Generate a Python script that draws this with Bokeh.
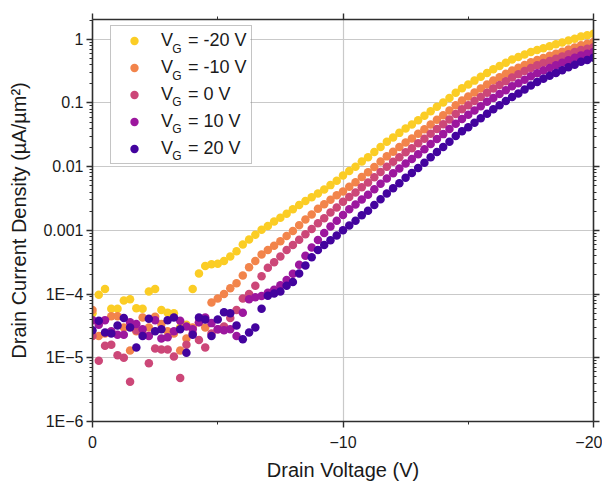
from bokeh.plotting import figure
from bokeh.models import (Range1d, FixedTicker, LinearAxis, LogAxis, Legend, LegendItem,
                          ColumnDataSource, BoxAnnotation)
from bokeh.core.properties import value
from bokeh.embed import file_html
from bokeh.resources import INLINE

drain_voltage = [0, -0.25, -0.5, -0.75, -1, -1.25, -1.5, -1.75, -2, -2.25, -2.5, -2.75, -3, -3.25,
                 -3.5, -3.75, -4, -4.25, -4.5, -4.75, -5, -5.25, -5.5, -5.75, -6, -6.25, -6.5, -6.75,
                 -7, -7.25, -7.5, -7.75, -8, -8.25, -8.5, -8.75, -9, -9.25, -9.5, -9.75, -10, -10.25,
                 -10.5, -10.75, -11, -11.25, -11.5, -11.75, -12, -12.25, -12.5, -12.75, -13, -13.25,
                 -13.5, -13.75, -14, -14.25, -14.5, -14.75, -15, -15.25, -15.5, -15.75, -16, -16.25,
                 -16.5, -16.75, -17, -17.25, -17.5, -17.75, -18, -18.25, -18.5, -18.75, -19, -19.25,
                 -19.5, -19.75, -20]

j_vg_m20 = [5.0e-5, 9.8e-5, 1.2e-4, 5.9e-5, 5.9e-5, 7.9e-5, 8.3e-5, 6.0e-5, 5.9e-5, 1.1e-4, 1.2e-4,
            5.6e-5, 5.1e-5, 5.0e-5, 3.0e-5, 3.3e-5, 1.2e-4, 2.1e-4, 2.75e-4, 2.95e-4, 3.0e-4, 3.3e-4,
            3.9e-4, 4.7e-4, 6.0e-4, 7.2e-4, 8.5e-4, 1.02e-3, 1.17e-3, 1.38e-3, 1.58e-3, 1.82e-3,
            2.14e-3, 2.51e-3, 2.88e-3, 3.31e-3, 3.8e-3, 4.37e-3, 5.13e-3, 6.03e-3, 7.24e-3, 8.51e-3,
            1.0e-2, 1.2e-2, 1.41e-2, 1.70e-2, 2.04e-2, 2.45e-2, 2.88e-2, 3.39e-2, 3.98e-2, 4.57e-2,
            5.37e-2, 6.31e-2, 7.41e-2, 8.71e-2, 0.102, 0.120, 0.145, 0.170, 0.195, 0.224, 0.257,
            0.295, 0.339, 0.380, 0.427, 0.479, 0.525, 0.575, 0.631, 0.676, 0.724, 0.776, 0.832,
            0.891, 0.955, 1.02, 1.10, 1.15, 1.22]

j_vg_m10 = [5.6e-5, 2.2e-5, 2.4e-5, 4.5e-5, 4.5e-5, 3.0e-5, 1.3e-5, 2.6e-5, 4.3e-5, 3.0e-5, 4.4e-5,
            3.4e-5, 2.6e-5, 2.4e-5, 1.3e-5, 2.0e-5, 3.0e-5, 3.6e-5, 3.0e-5, 7.4e-5, 8.5e-5, 1.0e-4,
            1.23e-4, 1.48e-4, 1.95e-4, 2.63e-4, 3.31e-4, 4.17e-4, 4.9e-4, 5.75e-4, 6.76e-4, 8.13e-4,
            9.8e-4, 1.2e-3, 1.48e-3, 1.78e-3, 2.19e-3, 2.57e-3, 3.02e-3, 3.55e-3, 4.07e-3, 4.82e-3,
            5.7e-3, 6.9e-3, 8.17e-3, 9.9e-3, 1.2e-2, 1.45e-2, 1.71e-2, 2.03e-2, 2.4e-2, 2.77e-2,
            3.28e-2, 3.88e-2, 4.59e-2, 5.43e-2, 6.43e-2, 7.6e-2, 9.2e-2, 0.109, 0.126, 0.146, 0.168,
            0.195, 0.225, 0.254, 0.287, 0.324, 0.358, 0.395, 0.437, 0.471, 0.508, 0.548, 0.592,
            0.638, 0.689, 0.743, 0.802, 0.846, 0.902]

j_vg_0 = [2.2e-5, 9.0e-6, 1.55e-5, 1.6e-5, 1.1e-5, 1.0e-5, 4.2e-6, 2.7e-5, 2.4e-5, 8.2e-6, 1.4e-5,
          1.35e-5, 1.35e-5, 1.05e-5, 4.8e-6, 1.6e-5, 2.4e-5, 1.9e-5, 1.45e-5, 2.4e-5, 2.8e-5, 3.1e-5,
          4.2e-5, 5.6e-5, 8.5e-5, 1.0e-4, 1.35e-4, 1.9e-4, 2.6e-4, 3.16e-4, 3.9e-4, 4.9e-4, 5.9e-4,
          7.1e-4, 8.7e-4, 1.05e-3, 1.29e-3, 1.55e-3, 1.91e-3, 2.29e-3, 2.82e-3, 3.33e-3, 3.93e-3,
          4.74e-3, 5.62e-3, 6.81e-3, 8.26e-3, 1.0e-2, 1.19e-2, 1.41e-2, 1.68e-2, 1.95e-2, 2.32e-2,
          2.75e-2, 3.27e-2, 3.89e-2, 4.62e-2, 5.50e-2, 6.68e-2, 7.94e-2, 9.23e-2, 0.107, 0.124,
          0.145, 0.168, 0.191, 0.219, 0.251, 0.282, 0.316, 0.355, 0.389, 0.422, 0.457, 0.495,
          0.537, 0.582, 0.631, 0.676, 0.708, 0.75]

j_vg_10 = [3.9e-5, 3.3e-5, 3.9e-5, 2.6e-5, 2.3e-5, 2.3e-5, 3.6e-5, 3.4e-5, 2.8e-5, 2.2e-5, 3.9e-5,
           2.0e-5, 2.1e-5, 2.6e-5, 3.8e-5, 3.1e-5, 2.8e-5, 3.6e-5, 4.3e-5, 3.5e-5, 2.8e-5, 2.7e-5,
           2.8e-5, 2.2e-5, 5.1e-5, 8.3e-5, 8.9e-5, 9.3e-5, 1.05e-4, 1.17e-4, 1.38e-4, 1.66e-4,
           2.09e-4, 2.88e-4, 3.98e-4, 5.37e-4, 7.08e-4, 9.12e-4, 1.15e-3, 1.41e-3, 1.74e-3, 2.15e-3,
           2.54e-3, 3.06e-3, 3.63e-3, 4.42e-3, 5.37e-3, 6.53e-3, 7.85e-3, 9.33e-3, 1.12e-2, 1.32e-2,
           1.57e-2, 1.88e-2, 2.26e-2, 2.72e-2, 3.24e-2, 3.89e-2, 4.73e-2, 5.62e-2, 6.53e-2, 7.59e-2,
           8.91e-2, 0.104, 0.120, 0.138, 0.158, 0.182, 0.204, 0.232, 0.263, 0.292, 0.324, 0.355,
           0.389, 0.427, 0.468, 0.513, 0.556, 0.589, 0.631]

j_vg_20 = [2.7e-5, 3.8e-5, 2.5e-5, 2.4e-5, 3.2e-5, 4.2e-5, 3.0e-5, 1.45e-5, 2.2e-5, 4.1e-5, 2.6e-5,
           2.8e-5, 3.9e-5, 4.3e-5, 2.8e-5, 1.2e-5, 2.3e-5, 4.3e-5, 4.0e-5, 2.2e-5, 4.0e-5, 5.2e-5,
           5.0e-5, 3.2e-5, 1.95e-5, 2.5e-5, 3.0e-5, 5.9e-5, 9.4e-5, 1.02e-4, 1.1e-4, 1.35e-4,
           1.55e-4, 2.1e-4, 2.8e-4, 3.8e-4, 4.9e-4, 5.9e-4, 7.0e-4, 8.3e-4, 1.0e-3, 1.19e-3,
           1.41e-3, 1.72e-3, 2.04e-3, 2.51e-3, 3.09e-3, 3.80e-3, 4.57e-3, 5.50e-3, 6.68e-3, 7.94e-3,
           9.55e-3, 1.15e-2, 1.40e-2, 1.70e-2, 2.04e-2, 2.45e-2, 3.02e-2, 3.59e-2, 4.17e-2, 4.90e-2,
           5.75e-2, 6.76e-2, 7.94e-2, 9.23e-2, 0.107, 0.124, 0.141, 0.162, 0.188, 0.214, 0.240,
           0.266, 0.295, 0.327, 0.363, 0.398, 0.442, 0.473, 0.513]

series_names = ["-20", "-10", "0", "10", "20"]
series_values = [j_vg_m20, j_vg_m10, j_vg_0, j_vg_10, j_vg_20]
series_colors = ["#fbcd25", "#f2844b", "#cc4778", "#9c179e", "#43039e"]

decade_ticks = [1e-6, 1e-5, 1e-4, 1e-3, 1e-2, 1e-1, 1.0]
decade_labels = ["1E\u22126", "1E\u22125", "1E\u22124", "0.001", "0.01", "0.1", "1"]
x_major = [0, -10, -20]
x_major_labels = ["0", "\u221210", "\u221220"]
x_minor = [-5, -15]

FONT = "Liberation Sans"
AX = "#2e2e2e"

p = figure(width=602, height=483, y_axis_type="log", x_range=Range1d(0, -20),
           y_range=Range1d(1e-6, 2.04), output_backend="svg", toolbar_location=None,
           min_border_left=92, min_border_right=9, min_border_top=19, min_border_bottom=62)
p.outline_line_color = None
p.background_fill_color = "white"
p.border_fill_color = "white"

minor_log = [m * 10.0 ** e for e in range(-6, 1) for m in range(2, 10)]
y_ticker = FixedTicker(ticks=decade_ticks, minor_ticks=minor_log)
x_ticker = FixedTicker(ticks=x_major, minor_ticks=x_minor)

# white patch behind the (transparent) legend so grid lines do not show through
p.add_layout(BoxAnnotation(left=-0.72, right=-6.3, top=1.83, bottom=0.0113,
                           fill_color="white", fill_alpha=1.0, line_color=None, level="underlay"))

renderers = []
for name, vals, col in zip(series_names, series_values, series_colors):
    src = ColumnDataSource(dict(x=drain_voltage, y=vals))
    r = p.scatter("x", "y", source=src, size=8.5, fill_color=col, line_color=None)
    renderers.append(r)


def style_axis(ax, show_labels):
    ax.axis_line_color = AX
    ax.axis_line_width = 1.6
    ax.major_tick_line_color = AX
    ax.minor_tick_line_color = AX
    ax.major_tick_line_width = 1.4
    ax.minor_tick_line_width = 1.0
    ax.major_tick_in = 0
    ax.major_tick_out = 6
    ax.minor_tick_in = 0
    ax.minor_tick_out = 3
    if show_labels:
        ax.major_label_text_font = FONT
        ax.major_label_text_font_size = "16px"
        ax.major_label_text_color = "#1a1a1a"
    else:
        ax.major_label_text_font_size = "2px"
        ax.major_label_text_color = None
        ax.major_label_standoff = 0


xa = p.xaxis[0]
xa.ticker = x_ticker
xa.major_label_overrides = {v: s for v, s in zip(x_major, x_major_labels)}
style_axis(xa, True)
xa.major_label_standoff = 8
xa.axis_label = "Drain Voltage (V)"
xa.axis_label_text_font = FONT
xa.axis_label_text_font_size = "20px"
xa.axis_label_text_font_style = "normal"
xa.axis_label_text_color = "#1a1a1a"
xa.axis_label_standoff = 8

ya = p.yaxis[0]
ya.ticker = y_ticker
ya.major_label_overrides = {v: s for v, s in zip(decade_ticks, decade_labels)}
style_axis(ya, True)
ya.major_label_standoff = 3
ya.axis_label = "Drain Current Density (\u00b5A/\u00b5m\u00b2)"
ya.axis_label_text_font = FONT
ya.axis_label_text_font_size = "20px"
ya.axis_label_text_font_style = "normal"
ya.axis_label_text_color = "#1a1a1a"
ya.axis_label_standoff = 10

top = LinearAxis(ticker=FixedTicker(ticks=x_major, minor_ticks=x_minor))
style_axis(top, False)
p.add_layout(top, "above")
right = LogAxis(ticker=FixedTicker(ticks=decade_ticks, minor_ticks=minor_log))
style_axis(right, False)
p.add_layout(right, "right")

p.xgrid.ticker = FixedTicker(ticks=[-10])
p.ygrid.ticker = FixedTicker(ticks=decade_ticks)
p.xgrid.grid_line_color = "#c9c9c9"
p.ygrid.grid_line_color = "#c9c9c9"
p.xgrid.grid_line_width = 1.2
p.ygrid.grid_line_width = 1.2

# subscript "G" of V_G in the legend labels
sub_x = [-3.18] * 5
sub_y = [0.706, 0.269, 0.102, 0.039, 0.0148]
p.text(x=sub_x, y=sub_y, text=["G"] * 5, text_font=value(FONT), text_font_size="12px",
       text_color="#1a1a1a", text_baseline="alphabetic", text_align="left")

nb = "\u00a0"
items = [LegendItem(label=value("V" + nb * 3 + "= " + n + " V"), renderers=[r])
         for n, r in zip(series_names, renderers)]
legend = Legend(items=items, location=(18, 257), padding=4, spacing=6, glyph_width=38,
                glyph_height=21, label_height=21, label_standoff=8,
                label_text_font=FONT, label_text_font_size="18px", label_text_color="#1a1a1a",
                border_line_color="#8a8a8a", border_line_width=1.5,
                background_fill_alpha=0.0)
p.add_layout(legend)

open("out.html", "w").write(file_html(p, INLINE))
